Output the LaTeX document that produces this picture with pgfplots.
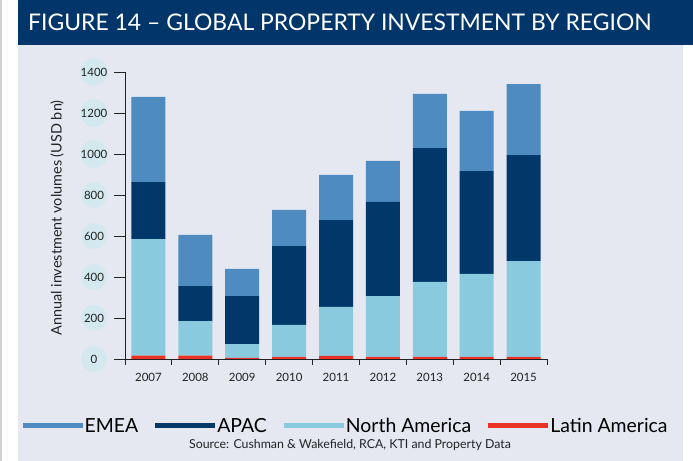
\documentclass[border=0pt]{standalone}
\usepackage{pgfplots}
\pgfplotsset{compat=1.18}
\usepackage{fontspec}
\setmainfont{Lato}
\definecolor{emea}{HTML}{4D8BC0}
\definecolor{apac}{HTML}{02376A}
\definecolor{namer}{HTML}{89CADF}
\definecolor{latam}{HTML}{EA3325}
\definecolor{bgc}{HTML}{E5E8F1}
\definecolor{banner}{HTML}{02366A}
\definecolor{tickc}{HTML}{D4E9EF}
\definecolor{axc}{HTML}{222222}
\begin{document}
\begin{tikzpicture}[x=1bp,y=1bp]
\path[use as bounding box] (0,0) rectangle (693,461);
\fill[white] (0,0) rectangle (693,461);
\draw[gray!35, line width=1.5bp] (1,0) -- (1,461);
\fill[bgc] (18,0) rectangle (683,416);
\fill[banner] (18,416) rectangle (693,461);
\node[anchor=base west, text=white, font=\fontsize{23}{23}\selectfont, inner sep=0pt] at (28,430) {FIGURE 14 -- GLOBAL PROPERTY INVESTMENT BY REGION};
\begin{axis}[
  at={(125bp,102bp)}, anchor=south west,
  scale only axis, width=422bp, height=287bp,
  ybar stacked, bar width=34bp,
  xmin=-0.5, xmax=8.5, ymin=0, ymax=1400,
  enlargelimits=false,
  axis x line*=bottom, axis y line*=left,
  axis line style={draw=axc, line width=0.8bp},
  tick align=outside,
  major tick length=11bp, minor tick length=6bp,
  xtick={0,...,8},
  xticklabels={2007,2008,2009,2010,2011,2012,2013,2014,2015},
  minor xtick={-0.5,0.5,...,8.5},
  every major x tick/.style={draw=none},
  every minor x tick/.style={draw=axc, line width=0.8bp},
  every major y tick/.style={draw=axc, line width=0.8bp},
  ytick={0,200,...,1400},
  xticklabel style={font=\fontsize{11.5}{11.5}\selectfont, text=axc},
  yticklabel style={font=\fontsize{11.5}{11.5}\selectfont, text=axc, circle, fill=tickc, minimum size=26bp, inner sep=0pt, anchor=center, xshift=-20bp},
  /pgf/number format/assume math mode=true,
  /pgf/number format/1000 sep={},
  legend style={at={(0.524,-0.2334)}, anchor=center, draw=none, fill=none, legend columns=4, font=\fontsize{19.5}{19.5}\selectfont, /tikz/every even column/.append style={column sep=15bp}},
  legend cell align=left,
  reverse legend,
  legend image code/.code={\fill[#1] (0bp,-2.5bp) rectangle (60bp,2.5bp);},
]
\addplot[fill=latam, draw=none] coordinates {(0,16) (1,16) (2,5) (3,10) (4,15) (5,10) (6,10) (7,10) (8,10)};
\addlegendentry{Latin America}
\addplot[fill=namer, draw=none] coordinates {(0,569) (1,169) (2,68) (3,156) (4,239) (5,297) (6,366) (7,405) (8,468)};
\addlegendentry{North America}
\addplot[fill=apac, draw=none] coordinates {(0,278) (1,171) (2,234) (3,385) (4,424) (5,459) (6,653) (7,502) (8,517)};
\addlegendentry{APAC}
\addplot[fill=emea, draw=none] coordinates {(0,415) (1,250) (2,132) (3,176) (4,220) (5,200) (6,264) (7,293) (8,346)};
\addlegendentry{EMEA}
\end{axis}
\node[rotate=90, font=\fontsize{14.5}{14.5}\selectfont, text=axc, inner sep=0pt] at (57,243) {Annual investment volumes (USD bn)};
\node[font=\fontsize{12.4}{12.4}\selectfont, text=axc, inner sep=0pt] at (350,16) {Source: Cushman \& Wakefield, RCA, KTI and Property Data};
\end{tikzpicture}
\end{document}
